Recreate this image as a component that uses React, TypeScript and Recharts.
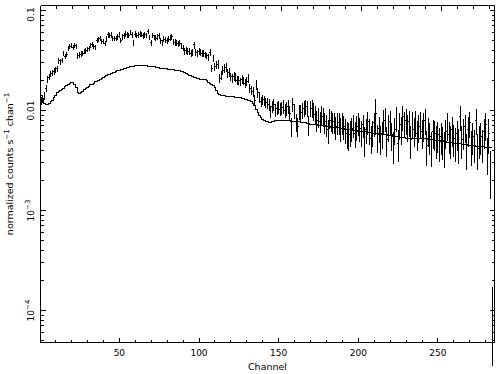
import React from "react";
import { ComposedChart, Scatter, Line, XAxis, YAxis, ErrorBar } from "recharts";

// count rate per channel (channels 1..284)
const rate = [
  0.0125, 0.0132, 0.014, 0.0165, 0.0205, 0.0215, 0.0232, 0.024, 0.0246, 0.0256,
  0.0262, 0.0315, 0.0305, 0.0318, 0.0372, 0.035, 0.0362, 0.0418, 0.044, 0.045,
  0.0428, 0.0445, 0.0438, 0.0352, 0.0358, 0.0367, 0.0375, 0.0387, 0.0395, 0.0405,
  0.0418, 0.045, 0.0462, 0.044, 0.043, 0.05, 0.051, 0.0527, 0.049, 0.0488,
  0.047, 0.052, 0.0569, 0.056, 0.057, 0.053, 0.0527, 0.053, 0.0545, 0.0569,
  0.0505, 0.0545, 0.0556, 0.0582, 0.0569, 0.056, 0.06, 0.0569, 0.0477, 0.0582,
  0.0565, 0.0569, 0.0582, 0.0575, 0.0556, 0.0569, 0.056, 0.0614, 0.054, 0.0477,
  0.056, 0.054, 0.0527, 0.0545, 0.0556, 0.05, 0.0477, 0.0515, 0.0505, 0.05,
  0.0515, 0.053, 0.0548, 0.0488, 0.048, 0.0477, 0.0463, 0.047, 0.0441, 0.042,
  0.0387, 0.0396, 0.039, 0.0387, 0.0373, 0.038, 0.0452, 0.0379, 0.0373, 0.0387,
  0.0385, 0.0373, 0.0373, 0.036, 0.0352, 0.0339, 0.038, 0.0264, 0.0332, 0.0274,
  0.0285, 0.029, 0.0209, 0.0226, 0.0254, 0.0264, 0.027, 0.0235, 0.024, 0.0217,
  0.0209, 0.0221, 0.0215, 0.0201, 0.0201, 0.0194, 0.0205, 0.0198, 0.0187, 0.0195,
  0.0209, 0.0167, 0.016, 0.0154, 0.0127, 0.018, 0.015, 0.0136, 0.0123, 0.0129,
  0.0125, 0.012, 0.0118, 0.0115, 0.0097, 0.0109, 0.0114, 0.0101, 0.0105, 0.0109,
  0.0103, 0.0106, 0.011, 0.0101, 0.0106, 0.0109, 0.0094, 0.0069, 0.0114, 0.01,
  0.0077, 0.0069, 0.0097, 0.0095, 0.0101, 0.0105, 0.0109, 0.0106, 0.0072, 0.0106,
  0.0105, 0.0098, 0.0092, 0.008, 0.0086, 0.0078, 0.009, 0.0087, 0.0077, 0.0072,
  0.0064, 0.0084, 0.008, 0.0077, 0.0077, 0.0069, 0.0075, 0.0075, 0.0066, 0.0075,
  0.0069, 0.0064, 0.0059, 0.0057, 0.0061, 0.0066, 0.0072, 0.0059, 0.0069, 0.0075,
  0.0066, 0.0061, 0.0072, 0.0051, 0.0064, 0.0077, 0.0064, 0.0053, 0.0061, 0.0075,
  0.0094, 0.0055, 0.0066, 0.0053, 0.0059, 0.008, 0.0084, 0.0051, 0.0069, 0.0077,
  0.0057, 0.0045, 0.0064, 0.0084, 0.0047, 0.0072, 0.0066, 0.0087, 0.0075, 0.008,
  0.0069, 0.0077, 0.0051, 0.0075, 0.0064, 0.0077, 0.0059, 0.0069, 0.0075, 0.0061,
  0.0072, 0.008, 0.0045, 0.0064, 0.0055, 0.0044, 0.0061, 0.0059, 0.0051, 0.0057,
  0.0049, 0.0055, 0.005, 0.0044, 0.0061, 0.0072, 0.0057, 0.0051, 0.0064, 0.0053,
  0.0049, 0.0059, 0.0047, 0.0087, 0.0051, 0.0061, 0.0069, 0.0042, 0.0064, 0.0075,
  0.0045, 0.0055, 0.0047, 0.008, 0.0042, 0.0051, 0.0055, 0.0047, 0.0062, 0.0072,
  0.0038, 0.0059, 0.0026, 0.0001,
];

// 1-sigma error, percent of the rate
const relErrPct = [
  9, 9, 9, 8, 8, 7, 7, 7, 7, 7,
  7, 7, 7, 6, 6, 6, 6, 6, 6, 6,
  6, 6, 6, 7, 7, 7, 6, 6, 6, 6,
  6, 6, 6, 6, 6, 6, 6, 6, 6, 6,
  6, 6, 6, 6, 6, 6, 6, 6, 6, 6,
  6, 6, 6, 6, 6, 6, 6, 6, 7, 6,
  6, 6, 6, 6, 6, 6, 6, 6, 6, 7,
  6, 6, 7, 7, 6, 7, 7, 7, 7, 7,
  7, 7, 7, 7, 7, 7, 7, 7, 7, 7,
  8, 8, 8, 8, 8, 8, 8, 8, 8, 8,
  8, 8, 8, 8, 8, 8, 8, 9, 9, 9,
  9, 10, 10, 10, 10, 10, 10, 10, 10, 10,
  10, 10, 10, 10, 10, 10, 10, 10, 10, 10,
  10, 11, 11, 12, 12, 11, 12, 12, 12, 12,
  12, 12, 13, 14, 14, 14, 14, 15, 15, 15,
  15, 15, 16, 16, 16, 16, 17, 22, 16, 17,
  20, 22, 18, 19, 18, 18, 18, 18, 22, 18,
  20, 20, 21, 23, 22, 23, 22, 22, 24, 25,
  27, 23, 24, 24, 24, 26, 25, 25, 27, 25,
  27, 28, 30, 31, 29, 27, 26, 29, 28, 26,
  27, 29, 26, 33, 28, 26, 29, 31, 30, 27,
  40, 31, 29, 32, 30, 27, 27, 33, 30, 28,
  31, 35, 30, 28, 35, 30, 31, 28, 29, 29,
  30, 29, 36, 30, 32, 29, 34, 31, 30, 33,
  32, 29, 38, 32, 35, 38, 33, 34, 36, 34,
  37, 35, 36, 39, 33, 31, 35, 36, 33, 36,
  37, 34, 38, 28, 36, 34, 31, 39, 33, 30,
  38, 35, 37, 29, 39, 36, 35, 37, 34, 31,
  40, 38, 50, 72,
];

// folded model per channel
const model = [
  0.014, 0.0128, 0.0117, 0.0114, 0.0115, 0.0118, 0.0122, 0.0127, 0.0134, 0.0142,
  0.015, 0.0156, 0.016, 0.0163, 0.0166, 0.0172, 0.0178, 0.0183, 0.0188, 0.019,
  0.0189, 0.0182, 0.0168, 0.0153, 0.0149, 0.0151, 0.0156, 0.0161, 0.0165, 0.017,
  0.0175, 0.018, 0.0184, 0.0188, 0.0193, 0.0197, 0.0201, 0.0206, 0.021, 0.0214,
  0.0218, 0.0223, 0.0227, 0.0231, 0.0235, 0.0238, 0.0242, 0.0246, 0.0249, 0.0252,
  0.0256, 0.0259, 0.0262, 0.0265, 0.0268, 0.0271, 0.0273, 0.0275, 0.0277, 0.0279,
  0.028, 0.0281, 0.0281, 0.0281, 0.028, 0.028, 0.0279, 0.0278, 0.0277, 0.0276,
  0.0275, 0.0273, 0.0271, 0.0269, 0.0267, 0.0265, 0.0264, 0.0263, 0.0262, 0.0261,
  0.026, 0.0259, 0.0257, 0.0256, 0.0254, 0.0253, 0.0251, 0.0249, 0.0246, 0.0243,
  0.024, 0.0235, 0.023, 0.0226, 0.0222, 0.0218, 0.0215, 0.0212, 0.021, 0.0208,
  0.0206, 0.0204, 0.0203, 0.0202, 0.0198, 0.0192, 0.0187, 0.0182, 0.0176, 0.0168,
  0.0158, 0.0148, 0.0143, 0.0141, 0.014, 0.014, 0.0139, 0.0139, 0.0138, 0.0138,
  0.0137, 0.0137, 0.0136, 0.0136, 0.0135, 0.0135, 0.0133, 0.0132, 0.013, 0.0129,
  0.0127, 0.0125, 0.0124, 0.0118, 0.0111, 0.0103, 0.0095, 0.0089, 0.0085, 0.0082,
  0.0079, 0.0078, 0.0077, 0.0076, 0.0076, 0.0077, 0.0078, 0.0079, 0.0079, 0.0079,
  0.0079, 0.0079, 0.0079, 0.0079, 0.0079, 0.0079, 0.0079, 0.0078, 0.0078, 0.0078,
  0.0078, 0.0077, 0.0077, 0.0076, 0.0076, 0.0075, 0.0075, 0.0074, 0.0074, 0.0073,
  0.0073, 0.0073, 0.0072, 0.0072, 0.0071, 0.0071, 0.007, 0.007, 0.007, 0.0069,
  0.0069, 0.0069, 0.0068, 0.0068, 0.0068, 0.0067, 0.0067, 0.0067, 0.0066, 0.0066,
  0.0066, 0.0065, 0.0065, 0.0064, 0.0064, 0.0064, 0.0063, 0.0063, 0.0063, 0.0062,
  0.0062, 0.0062, 0.0061, 0.0061, 0.0061, 0.006, 0.006, 0.006, 0.0059, 0.0059,
  0.0059, 0.0059, 0.0058, 0.0058, 0.0058, 0.0058, 0.0057, 0.0057, 0.0056, 0.0056,
  0.0056, 0.0055, 0.0055, 0.0055, 0.0055, 0.0054, 0.0054, 0.0054, 0.0054, 0.0053,
  0.0053, 0.0053, 0.0053, 0.0053, 0.0053, 0.0052, 0.0052, 0.0052, 0.0052, 0.0052,
  0.0052, 0.0052, 0.0052, 0.0051, 0.0051, 0.0051, 0.0051, 0.005, 0.005, 0.005,
  0.005, 0.0049, 0.0049, 0.0049, 0.0049, 0.0048, 0.0048, 0.0048, 0.0048, 0.0047,
  0.0047, 0.0047, 0.0047, 0.0047, 0.0046, 0.0046, 0.0046, 0.0046, 0.0045, 0.0045,
  0.0045, 0.0045, 0.0045, 0.0044, 0.0044, 0.0044, 0.0044, 0.0044, 0.0044, 0.0043,
  0.0043, 0.0043, 0.0043, 0.0043,
];

const xTicks = [
  10, 20, 30, 40, 50, 60, 70, 80, 90, 100, 110, 120, 130, 140,
  150, 160, 170, 180, 190, 200, 210, 220, 230, 240, 250, 260, 270, 280,
];
const xMajor = [50, 100, 150, 200, 250];

const yTicks = [
  5e-5, 6e-5, 7e-5, 8e-5, 9e-5,
  1e-4, 2e-4, 3e-4, 4e-4, 5e-4, 6e-4, 7e-4, 8e-4, 9e-4,
  1e-3, 2e-3, 3e-3, 4e-3, 5e-3, 6e-3, 7e-3, 8e-3, 9e-3,
  0.01, 0.02, 0.03, 0.04, 0.05, 0.06, 0.07, 0.08, 0.09, 0.1,
];
const yMajor = [1e-4, 1e-3, 0.01, 0.1];

const X_DOMAIN: [number, number] = [0.5, 285.5];
const Y_DOMAIN: [number, number] = [4.786e-5, 0.1122];
const FONT = "DejaVu Sans";

const rows = rate.map((v, i) => ({
  ch: i + 1,
  rate: v,
  err: (v * relErrPct[i]) / 100,
  halfBin: 0.5,
  model: model[i],
}));

const isMajor = (list: number[], v: number) =>
  list.some((m) => Math.abs(m - v) / m < 1e-6);

function YLabel({ value }: { value: number }) {
  if (isMajor([0.1], value)) return <>0.1</>;
  if (isMajor([0.01], value)) return <>0.01</>;
  const exp = Math.round(Math.log10(value));
  return (
    <>
      10
      <tspan dy={-4} fontSize={7}>
        {"\u2212" + Math.abs(exp)}
      </tspan>
    </>
  );
}

const BottomTick = (props: any) => {
  const { x, y, payload } = props;
  const major = xMajor.includes(payload.value);
  return (
    <g>
      <line x1={x} x2={x} y1={y} y2={y - (major ? 5 : 3)} stroke="#000" />
      {major && (
        <text x={x} y={y + 13.5} textAnchor="middle" fontSize={9} fontFamily={FONT} fill="#000">
          {payload.value}
        </text>
      )}
    </g>
  );
};

const TopTick = (props: any) => {
  const { x, y, payload } = props;
  const major = xMajor.includes(payload.value);
  return <line x1={x} x2={x} y1={y} y2={y + (major ? 5 : 3)} stroke="#000" />;
};

const LeftTick = (props: any) => {
  const { x, y, payload } = props;
  const major = isMajor(yMajor, payload.value);
  // the top label is nudged down to stay inside the frame
  const shift = isMajor([0.1], payload.value) ? 4 : 0;
  return (
    <g>
      <line x1={x} x2={x + (major ? 5 : 3)} y1={y} y2={y} stroke="#000" />
      {major && (
        <text
          transform={`translate(${x - 7},${y + shift}) rotate(-90)`}
          textAnchor="middle"
          fontSize={9}
          fontFamily={FONT}
          fill="#000"
        >
          <YLabel value={payload.value} />
        </text>
      )}
    </g>
  );
};

const RightTick = (props: any) => {
  const { x, y, payload } = props;
  const major = isMajor(yMajor, payload.value);
  return <line x1={x} x2={x - (major ? 5 : 3)} y1={y} y2={y} stroke="#000" />;
};

const noDot = () => <g />;

export default function App() {
  return (
    <div
      style={{
        position: "absolute",
        left: 0,
        top: 0,
        width: 501,
        height: 374,
        background: "#fff",
        shapeRendering: "crispEdges",
      }}
    >
      <ComposedChart
        width={501}
        height={374}
        data={rows}
        margin={{ top: 4.5, right: 5.5, bottom: 30.5, left: 39.5 }}
      >
        <XAxis
          xAxisId="b"
          dataKey="ch"
          type="number"
          domain={X_DOMAIN}
          allowDataOverflow
          ticks={xTicks}
          interval={0}
          height={1}
          tickSize={0}
          tickMargin={0}
          tick={BottomTick}
          axisLine={{ stroke: "#000" }}
        />
        <XAxis
          xAxisId="t"
          orientation="top"
          type="number"
          domain={X_DOMAIN}
          allowDataOverflow
          ticks={xTicks}
          interval={0}
          height={1}
          tickSize={0}
          tickMargin={0}
          tick={TopTick}
          axisLine={{ stroke: "#000" }}
        />
        <YAxis
          yAxisId="l"
          scale="log"
          type="number"
          domain={Y_DOMAIN}
          allowDataOverflow
          ticks={yTicks}
          interval={0}
          width={1}
          tickSize={0}
          tickMargin={0}
          tick={LeftTick}
          axisLine={{ stroke: "#000" }}
        />
        <YAxis
          yAxisId="r"
          orientation="right"
          scale="log"
          type="number"
          domain={Y_DOMAIN}
          allowDataOverflow
          ticks={yTicks}
          interval={0}
          width={1}
          tickSize={0}
          tickMargin={0}
          tick={RightTick}
          axisLine={{ stroke: "#000" }}
        />
        <Line
          xAxisId="b"
          yAxisId="l"
          dataKey="model"
          type="step"
          stroke="#000"
          strokeWidth={1}
          dot={false}
          activeDot={false}
          isAnimationActive={false}
        />
        <Scatter xAxisId="b" yAxisId="l" dataKey="rate" shape={noDot} isAnimationActive={false}>
          <ErrorBar dataKey="err" direction="y" width={0} stroke="#000" strokeWidth={1} isAnimationActive={false} />
          <ErrorBar dataKey="halfBin" direction="x" width={0} stroke="#000" strokeWidth={1} isAnimationActive={false} />
        </Scatter>
      </ComposedChart>
      <svg
        width={501}
        height={374}
        style={{ position: "absolute", left: 0, top: 0, pointerEvents: "none" }}
      >
        <text x={267.5} y={370} textAnchor="middle" fontSize={9.5} fontFamily={FONT} fill="#000">
          Channel
        </text>
        <text
          transform="translate(13,164) rotate(-90)"
          textAnchor="middle"
          fontSize={9.5}
          fontFamily={FONT}
          fill="#000"
        >
          normalized counts s
          <tspan dy={-4} fontSize={7}>{"\u22121"}</tspan>
          <tspan dy={4}> chan</tspan>
          <tspan dy={-4} fontSize={7}>{"\u22121"}</tspan>
        </text>
      </svg>
    </div>
  );
}
